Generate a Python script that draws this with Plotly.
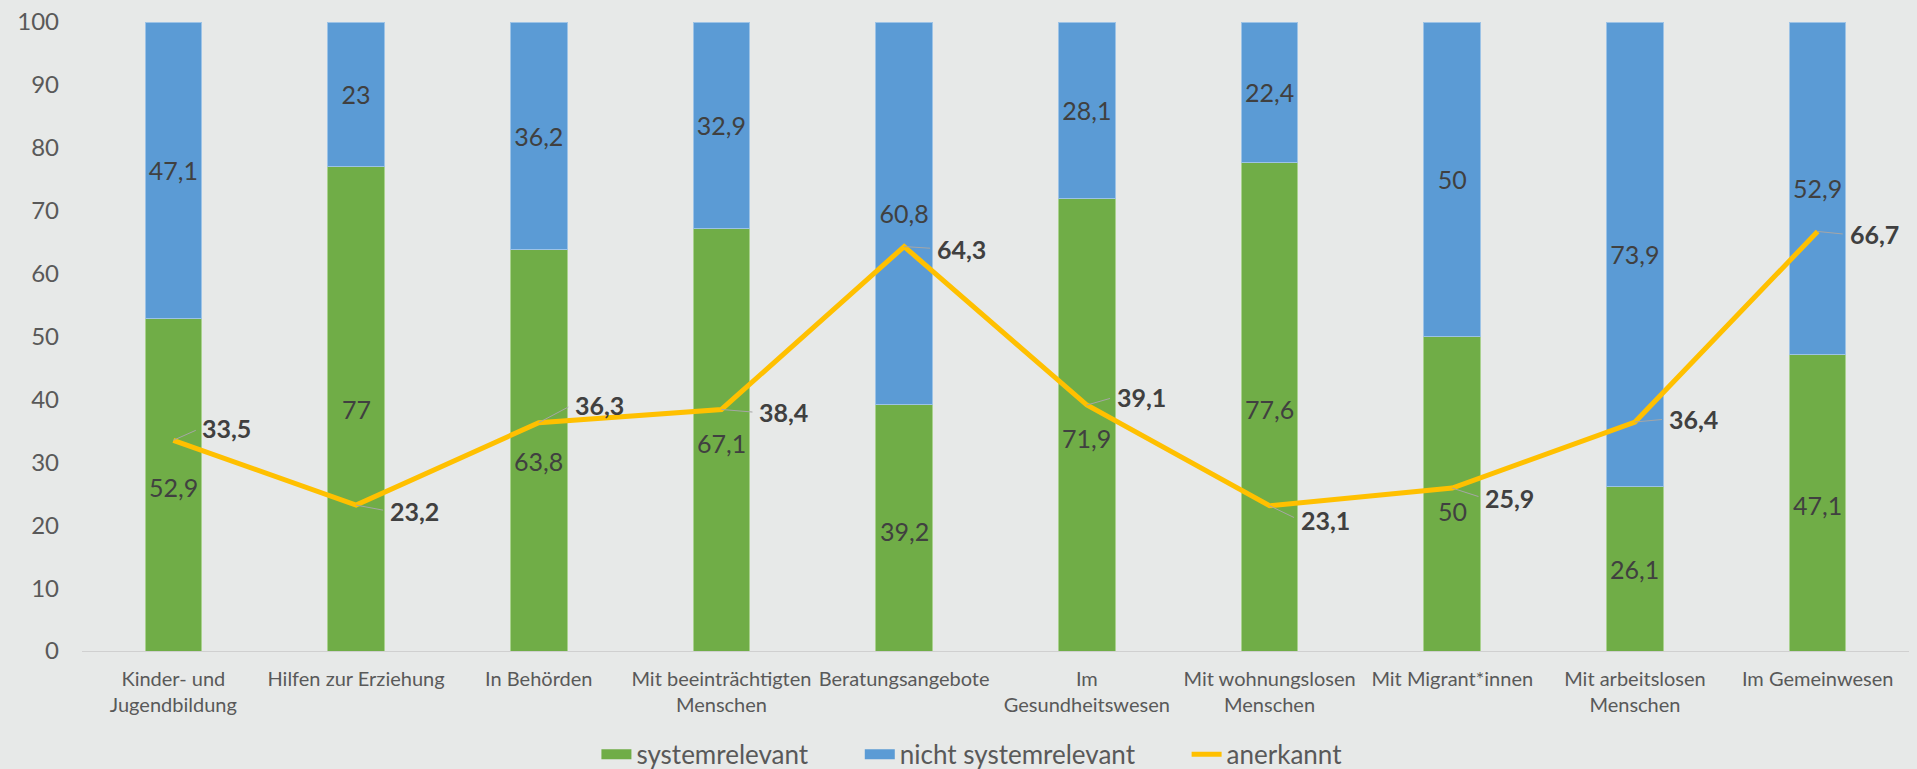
import plotly.graph_objects as go

categories = [
    "Kinder- und<br>Jugendbildung",
    "Hilfen zur Erziehung",
    "In Behörden",
    "Mit beeinträchtigten<br>Menschen",
    "Beratungsangebote",
    "Im<br>Gesundheitswesen",
    "Mit wohnungslosen<br>Menschen",
    "Mit Migrant*innen",
    "Mit arbeitslosen<br>Menschen",
    "Im Gemeinwesen",
]
systemrelevant = [52.9, 77, 63.8, 67.1, 39.2, 71.9, 77.6, 50, 26.1, 47.1]
nicht_systemrelevant = [47.1, 23, 36.2, 32.9, 60.8, 28.1, 22.4, 50, 73.9, 52.9]
anerkannt = [33.5, 23.2, 36.3, 38.4, 64.3, 39.1, 23.1, 25.9, 36.4, 66.7]
y_ticks = [0, 10, 20, 30, 40, 50, 60, 70, 80, 90, 100]

# pixel offsets of line labels (text left edge / vertical centre) relative to the point
label_dx = [30, 35, 37, 39, 34, 31, 32, 34, 35, 33]
label_dy = [-12, 6, -18, 3, 2, -8, 14, 10, -3, 3]
# downward pixel nudges of the green labels that were moved away from the line labels
green_label_nudge = [2, 0, 11, 3, 3, 13, 2, 17, 0, 2]

GREEN = "#70AD47"
BLUE = "#5B9BD5"
GOLD = "#FFC000"
BG = "#E7E9E8"
FONT = "Lato"
PAD = "\u00a0" * 7


def fmt(v):
    return f"{v:g}".replace(".", ",")


fig = go.Figure()
fig.add_trace(go.Bar(
    x=categories, y=systemrelevant, name="systemrelevant", showlegend=False,
    marker=dict(color=GREEN, line=dict(color="#A9D18E", width=1)),
))
fig.add_trace(go.Bar(
    x=categories, y=nicht_systemrelevant, name="nicht systemrelevant", showlegend=False,
    marker=dict(color=BLUE, line=dict(color="#9DC3E6", width=1)),
    text=[fmt(v) for v in nicht_systemrelevant], textposition="inside",
    insidetextanchor="middle", textangle=0, constraintext="none",
    textfont=dict(family=FONT, size=25, color="#404040"),
))
fig.add_trace(go.Scatter(
    x=categories, y=anerkannt, name="anerkannt", mode="lines", showlegend=False,
    line=dict(color=GOLD, width=5),
))

# legend entries (wide swatches like the original)
for nm, col, w in [("systemrelevant" + PAD, GREEN, 15), ("nicht systemrelevant" + PAD, BLUE, 15), ("anerkannt", GOLD, 5)]:
    fig.add_trace(go.Scatter(
        x=[None], y=[None], mode="lines", name=nm,
        line=dict(color=col, width=w), showlegend=True,
    ))

# green segment labels (centre of segment, some nudged as in the original)
for i, (c, v) in enumerate(zip(categories, systemrelevant)):
    fig.add_annotation(
        x=c, y=v / 2, xref="x", yref="y", text=fmt(v), showarrow=False,
        yshift=-green_label_nudge[i],
        font=dict(family=FONT, size=25, color="#404040"),
    )

# line labels with leader lines
for i, (c, v) in enumerate(zip(categories, anerkannt)):
    fig.add_annotation(
        x=c, y=v, xref="x", yref="y",
        text=f"<b>{fmt(v)}</b>",
        showarrow=True, arrowhead=0, arrowwidth=1, arrowcolor="#A6A6A6",
        ax=label_dx[i] - 3, ay=label_dy[i], axref="pixel", ayref="pixel",
        xanchor="left", yanchor="middle", startstandoff=5,
        font=dict(family=FONT, size=25, color="#404040"),
    )

fig.update_layout(
    width=1917, height=769,
    barmode="stack", bargap=0.69,
    paper_bgcolor=BG, plot_bgcolor=BG,
    margin=dict(l=82, r=8, t=22, b=118, autoexpand=False),
    font=dict(family=FONT, color="#595959"),
    showlegend=True,
    legend=dict(
        orientation="h", x=0.507, xref="container", xanchor="center",
        y=0.019, yref="container", yanchor="middle",
        traceorder="normal", font=dict(family=FONT, size=26, color="#595959"),
        bgcolor="rgba(0,0,0,0)", itemwidth=30,
    ),
    yaxis=dict(
        range=[0, 100], tickvals=y_ticks, showgrid=False, zeroline=False,
        showline=False, tickfont=dict(family=FONT, size=24, color="#595959"),
        ticks="", ticklabelstandoff=22, automargin=False,
    ),
    xaxis=dict(
        showgrid=False, showline=True, linecolor="#D0D0D0", linewidth=1,
        tickfont=dict(family=FONT, size=20, color="#595959"),
        ticks="", ticklabelstandoff=10, automargin=False,
    ),
)

fig.write_html("out.html", config={"displayModeBar": False},
               post_script="document.body.style.margin='0';")
